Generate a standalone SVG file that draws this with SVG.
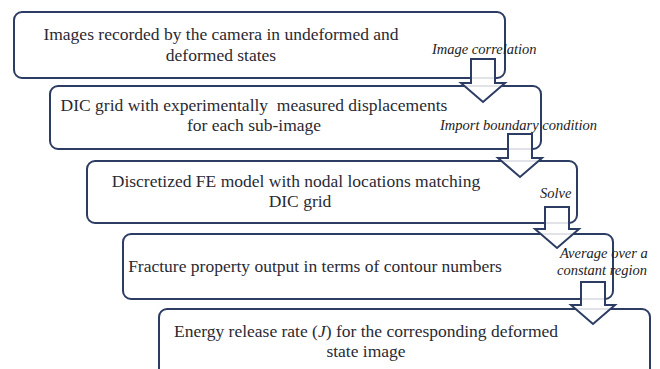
<svg xmlns="http://www.w3.org/2000/svg" width="660" height="369" viewBox="0 0 660 369">
<style>
.box{fill:#fff;stroke:#2c3c63;stroke-width:2}
.t{font-family:'Liberation Serif','Times New Roman',serif;font-size:17.5px;fill:#2a2a33;text-anchor:middle}
.lb{font-family:'Liberation Serif','Times New Roman',serif;font-size:14.5px;font-style:italic;fill:#222}
.arr{fill:#fff;fill-opacity:0.86;stroke:#2c3c63;stroke-width:2;stroke-linejoin:miter}
</style>
<rect width="660" height="369" fill="#fff"/>
<g id="n1"><rect class="box" x="14" y="12" width="491" height="66" rx="8"/>
<text class="t" x="221" y="40">Images recorded by the camera in undeformed and</text>
<text class="t" x="221" y="61">deformed states</text></g>
<g id="n2"><rect class="box" x="50" y="86" width="491" height="63" rx="8"/>
<text class="t" x="254" y="111" xml:space="preserve">DIC grid with experimentally  measured displacements</text>
<text class="t" x="254" y="131">for each sub-image</text></g>
<g id="n3"><rect class="box" x="87" y="161" width="490" height="62" rx="8"/>
<text class="t" x="296" y="187">Discretized FE model with nodal locations matching</text>
<text class="t" x="300" y="207">DIC grid</text></g>
<g id="n4"><rect class="box" x="123" y="234" width="490" height="65" rx="8"/>
<text class="t" x="315" y="272">Fracture property output in terms of contour numbers</text></g>
<g id="n5"><rect class="box" x="159" y="309" width="491" height="80" rx="8"/>
<text class="t" x="366" y="337">Energy release rate (<tspan font-style="italic">J</tspan>) for the corresponding deformed</text>
<text class="t" x="366" y="357">state image</text></g>
<g id="connectors">
<path class="arr" d="M471 59H495V83H505L483 102L461 83H471Z"/>
<text class="lb" x="432" y="54">Image correlation</text>
<path class="arr" d="M508 134H532V158H542L520 177L498 158H508Z"/>
<text class="lb" x="440" y="130">Import boundary condition</text>
<path class="arr" d="M545 207H569V229H579L557 248L535 229H545Z"/>
<text class="lb" x="540" y="198">Solve</text>
<path class="arr" d="M581 282H605V305H615L593 324L571 305H581Z"/>
<text class="lb" x="560" y="258">Average over a</text>
<text class="lb" x="557" y="275">constant region</text>
</g>
</svg>
